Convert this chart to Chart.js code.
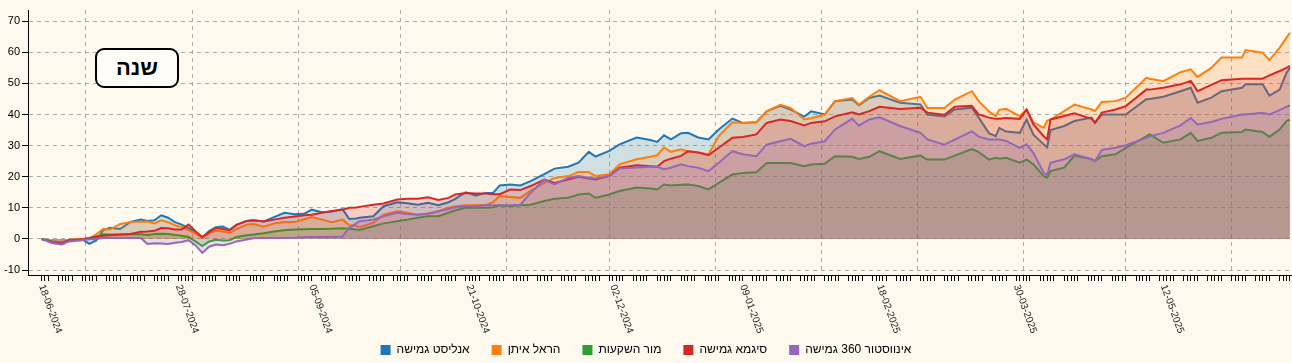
<!DOCTYPE html>
<html lang="he">
<head>
<meta charset="utf-8">
<title>שנה</title>
<script src="https://cdn.jsdelivr.net/npm/chart.js@4.4.0/dist/chart.umd.min.js"></script>
<style>
    html, body { margin: 0; padding: 0; background: #fdf9ee; }
    #wrap { position: relative; width: 1292px; height: 363px; }
    #title {
        position: absolute; left: 95px; top: 48px; width: 80px; height: 36px;
        border: 2px solid #000; border-radius: 9px; background: #fffdf8;
        font: bold 22px "Liberation Sans", Arial, sans-serif;
        display: flex; align-items: center; justify-content: center; direction: rtl;
    }
</style>
</head>
<body>
<div id="wrap">
    <canvas id="chart" width="1292" height="363"></canvas>
    <div id="title">שנה</div>
</div>
<script>
// Sample dates
const dates = [
    '2024-06-18', '2024-06-21', '2024-06-24', '2024-06-26', '2024-06-30', '2024-07-02', '2024-07-04', '2024-07-06',
    '2024-07-08', '2024-07-11', '2024-07-14', '2024-07-17', '2024-07-19', '2024-07-21', '2024-07-23', '2024-07-25',
    '2024-07-27', '2024-07-29', '2024-07-31', '2024-08-02', '2024-08-04', '2024-08-06', '2024-08-08', '2024-08-10',
    '2024-08-12', '2024-08-14', '2024-08-17', '2024-08-19', '2024-08-22', '2024-08-25', '2024-08-28', '2024-08-31',
    '2024-09-03', '2024-09-05', '2024-09-08', '2024-09-11', '2024-09-14', '2024-09-16', '2024-09-18', '2024-09-19',
    '2024-09-23', '2024-09-26', '2024-09-30', '2024-10-03', '2024-10-06', '2024-10-09', '2024-10-12', '2024-10-15',
    '2024-10-17', '2024-10-20', '2024-10-23', '2024-10-26', '2024-10-28', '2024-10-30', '2024-11-02', '2024-11-05',
    '2024-11-08', '2024-11-12', '2024-11-15', '2024-11-19', '2024-11-22', '2024-11-25', '2024-11-27', '2024-12-01',
    '2024-12-04', '2024-12-09', '2024-12-13', '2024-12-15', '2024-12-17', '2024-12-19', '2024-12-22', '2024-12-24',
    '2024-12-27', '2024-12-30', '2025-01-02', '2025-01-06', '2025-01-09', '2025-01-13', '2025-01-16', '2025-01-20',
    '2025-01-23', '2025-01-27', '2025-01-29', '2025-02-02', '2025-02-05', '2025-02-10', '2025-02-12', '2025-02-15',
    '2025-02-18', '2025-02-24', '2025-03-02', '2025-03-04', '2025-03-09', '2025-03-12', '2025-03-17', '2025-03-19',
    '2025-03-22', '2025-03-24', '2025-03-25', '2025-03-27', '2025-03-31', '2025-04-02', '2025-04-04', '2025-04-07',
    '2025-04-08', '2025-04-09', '2025-04-13', '2025-04-16', '2025-04-21', '2025-04-22', '2025-04-24', '2025-04-28',
    '2025-05-01', '2025-05-07', '2025-05-08', '2025-05-12', '2025-05-17', '2025-05-20', '2025-05-22', '2025-05-26',
    '2025-05-29', '2025-06-04', '2025-06-05', '2025-06-10', '2025-06-12', '2025-06-15', '2025-06-17', '2025-06-18'
];

// Cumulative return (%) per fund
const analyst = [
    0, -0.8, -1.2, -0.3, -0.2, -1.6, -0.5, 2.8, 3.6, 3.2, 5.5, 6.2, 5.8, 6.0, 7.6, 6.8,
    5.4, 4.6, 3.5, 2.2, 0.4, 2.5, 3.8, 4.0, 2.9, 4.5, 5.8, 6.0, 5.6, 7.0, 8.4, 7.9,
    8.2, 9.4, 8.6, 8.8, 9.6, 6.4, 6.6, 6.8, 7.3, 10.5, 11.8, 11.5, 11.0, 11.6, 10.8, 11.8,
    12.9, 15.0, 14.0, 14.8, 14.8, 17.2, 17.5, 17.2, 18.6, 20.8, 22.6, 23.2, 24.5, 28.0, 26.5, 28.3,
    30.4, 32.6, 31.8, 31.2, 33.3, 32.0, 34.0, 34.1, 32.6, 32.0, 35.2, 38.7, 37.3, 37.5, 41.0, 42.8,
    41.6, 39.3, 41.0, 40.0, 44.3, 44.8, 43.0, 45.3, 46.1, 43.8, 43.2, 40.0, 39.4, 41.6, 42.2, 39.0,
    34.0, 33.0, 35.7, 34.5, 34.1, 38.4, 33.5, 30.4, 29.5, 35.0, 36.3, 37.9, 39.0, 37.3, 40.0, 40.0,
    40.0, 44.9, 45.0, 45.7, 47.5, 48.6, 43.8, 45.4, 47.5, 48.6, 49.7, 49.7, 46.1, 48.0, 53.4, 55.0
];
const harel = [
    0, -0.8, -1.1, -0.3, 0, 0.2, 1.5, 3.2, 3.0, 4.8, 5.4, 5.5, 5.6, 5.0, 6.0, 5.4,
    4.4, 3.8, 2.8, 1.8, 0.3, 1.8, 2.6, 2.4, 1.9, 3.2, 4.6, 4.8, 3.9, 5.0, 5.4, 5.4,
    6.4, 7.0, 6.2, 5.4, 6.2, 4.4, 4.2, 3.8, 5.2, 7.8, 8.9, 8.4, 7.8, 8.0, 8.9, 10.0,
    10.5, 10.8, 10.8, 11.0, 11.8, 13.8, 13.5, 13.2, 15.5, 18.0, 19.6, 20.2, 21.5, 21.5, 20.2, 20.8,
    24.0, 25.6, 26.4, 26.9, 29.4, 28.0, 28.8, 28.2, 27.8, 27.2, 33.1, 37.5, 37.3, 37.5, 41.0, 43.1,
    42.1, 38.4, 38.8, 40.0, 44.3, 45.3, 43.2, 45.7, 47.8, 44.3, 45.7, 42.1, 42.1, 44.8, 47.5, 44.3,
    41.0, 39.5, 41.5, 41.8, 39.5, 41.6, 37.5, 35.7, 38.0, 38.4, 41.1, 43.2, 41.6, 41.1, 44.0, 44.3,
    45.4, 51.8, 51.5, 50.7, 53.6, 54.5, 52.1, 55.0, 58.3, 58.3, 60.7, 59.9, 57.5, 61.5, 64.7, 66.3
];
const mor = [
    0, -0.9, -1.3, -0.5, -0.2, 0.3, 0.8, 1.5, 1.4, 1.4, 1.5, 1.5, 1.3, 1.6, 1.7, 1.6,
    1.3, 1.0, 0.6, -0.8, -2.3, -0.8, -0.3, -0.5, -0.4, 0.6, 1.2, 1.4, 1.8, 2.4, 2.8, 3.0,
    3.1, 3.2, 3.2, 3.3, 3.4, 3.3, 3.0, 2.9, 4.1, 5.0, 5.7, 6.2, 6.8, 7.3, 7.3, 8.4,
    9.2, 10.0, 10.0, 10.0, 10.2, 10.8, 10.5, 10.8, 11.0, 12.2, 12.9, 13.2, 14.3, 14.6, 13.2, 14.3,
    15.4, 16.5, 16.2, 15.9, 17.5, 17.2, 17.4, 17.5, 17.0, 15.9, 18.0, 20.7, 21.2, 21.4, 24.4, 24.4,
    24.4, 23.4, 23.9, 24.2, 26.6, 26.4, 25.7, 26.4, 28.2, 25.7, 26.8, 25.5, 25.5, 26.8, 28.9, 27.9,
    25.5, 26.1, 25.8, 26.1, 24.5, 25.5, 24.0, 20.2, 19.7, 21.8, 22.9, 26.8, 25.6, 25.0, 26.6, 27.2,
    29.3, 33.0, 33.6, 30.9, 32.0, 34.1, 31.5, 32.5, 34.1, 34.4, 35.2, 34.4, 32.8, 35.2, 37.9, 38.4
];
const sigma = [
    0, -1.0, -1.4, -0.4, -0.1, 0.2, 0.6, 1.0, 1.2, 1.4, 1.6, 2.3, 2.4, 2.6, 3.5, 3.4,
    3.0, 3.0, 4.6, 2.5, 0.6, 2.2, 3.5, 3.2, 2.8, 4.5, 5.8, 6.0, 5.6, 6.2, 6.8, 7.2,
    7.6, 7.8, 8.4, 9.0, 9.4, 10.0, 10.1, 10.3, 11.0, 11.4, 12.7, 12.9, 12.9, 13.4, 12.5, 13.2,
    14.3, 14.8, 14.6, 14.6, 14.4, 14.4, 15.9, 15.7, 17.0, 19.1, 18.0, 19.1, 20.0, 19.4, 19.1, 20.2,
    22.9, 23.7, 23.4, 23.2, 25.0, 25.8, 26.7, 28.2, 27.8, 26.9, 29.3, 32.5, 32.8, 33.6, 37.3, 38.4,
    37.9, 36.5, 37.3, 37.8, 39.4, 40.7, 40.0, 41.1, 42.5, 41.8, 42.2, 40.6, 39.9, 42.5, 42.8, 40.0,
    39.0, 38.6, 38.6, 38.9, 38.6, 41.6, 36.8, 33.0, 32.0, 38.4, 39.5, 40.4, 38.6, 37.3, 40.6, 41.6,
    42.7, 48.0, 48.0, 48.6, 49.7, 50.8, 47.5, 49.5, 51.0, 51.5, 51.5, 51.5, 52.6, 54.0, 55.0, 55.6
];
const investor = [
    0, -1.3, -1.8, -0.8, -0.4, -0.1, 0, 0.3, 0.3, 0.3, 0.3, 0.3, -1.6, -1.4, -1.5, -1.6,
    -1.2, -1.0, -0.4, -2.0, -4.5, -2.5, -1.8, -2.0, -1.6, -0.8, -0.2, 0.2, 0.3, 0.3, 0.3, 0.4,
    0.6, 0.6, 0.6, 0.6, 0.8, 3.6, 5.0, 5.7, 6.2, 7.3, 8.4, 8.0, 7.8, 8.2, 8.9, 9.6,
    10.2, 10.5, 10.5, 10.8, 10.8, 10.8, 10.8, 11.0, 14.8, 19.1, 17.5, 19.7, 20.2, 19.7, 19.4, 20.2,
    22.6, 23.0, 23.2, 23.2, 22.4, 22.9, 24.0, 23.4, 22.9, 21.8, 24.5, 28.2, 27.2, 26.6, 30.3, 31.4,
    32.2, 29.8, 30.6, 31.4, 35.2, 38.6, 36.4, 38.4, 39.1, 36.3, 34.1, 32.0, 30.3, 31.9, 34.6, 32.9,
    32.0, 32.0, 32.0, 31.5, 29.3, 30.4, 27.6, 21.3, 20.5, 24.5, 25.6, 27.2, 25.6, 25.0, 28.6, 29.3,
    30.1, 32.5, 33.0, 34.1, 36.5, 38.9, 36.8, 37.6, 38.6, 40.0, 40.0, 40.6, 40.0, 41.4, 42.5, 42.9
];

const seriesNames = ['אנליסט גמישה', 'הראל איתן', 'מור השקעות', 'סיגמא גמישה', 'אינווסטור 360 גמישה'];
const seriesValues = [analyst, harel, mor, sigma, investor];
const seriesColors = ['#1f77b4', '#ff7f0e', '#2ca02c', '#d62728', '#9467bd'];
const fillColors = ['rgba(31,119,180,0.2)', 'rgba(255,127,14,0.2)', 'rgba(44,160,44,0.2)', 'rgba(214,39,40,0.2)', 'rgba(148,103,189,0.2)'];

// Axis labels
const labelDates = ['2024-06-18', '2024-07-28', '2024-09-05', '2024-10-21', '2024-12-02', '2025-01-09', '2025-02-18', '2025-03-30', '2025-05-12'];
const yTicks = [-10, 0, 10, 20, 30, 40, 50, 60, 70];

const DAY = 86400000;
const start = Date.parse(dates[0]);
const end = Date.parse(dates[dates.length - 1]);
const toDay = s => Math.round((Date.parse(s) - start) / DAY);
const fmtDate = s => s.slice(8, 10) + '-' + s.slice(5, 7) + '-' + s.slice(0, 4);

// Small tick marks on trading days (Sun-Thu), dashed grid on the 1st of each month
const tradeSet = new Set();
const monthSet = new Set();
for (let t = start; t <= end; t += DAY) {
    const d = new Date(t);
    const n = Math.round((t - start) / DAY);
    if (d.getUTCDay() <= 4) tradeSet.add(n);
    if (d.getUTCDate() === 1) monthSet.add(n);
}
const xTicks = [...new Set([...tradeSet, ...monthSet])].sort((a, b) => a - b);

const FONT = '"Liberation Sans", Arial, sans-serif';

// Rotated date labels under the x axis
const dateLabels = {
    id: 'dateLabels',
    afterDraw(chart) {
        const { ctx } = chart;
        const x = chart.scales.x;
        ctx.save();
        ctx.font = '10px ' + FONT;
        ctx.fillStyle = '#222';
        ctx.textAlign = 'left';
        ctx.textBaseline = 'middle';
        labelDates.forEach(s => {
            const px = x.getPixelForValue(toDay(s));
            ctx.save();
            ctx.translate(px, x.top + 10);
            ctx.rotate(70 * Math.PI / 180);
            ctx.fillText(fmtDate(s), 0, 0);
            ctx.restore();
        });
        ctx.restore();
    }
};

const chart = new Chart(document.getElementById('chart'), {
    type: 'line',
    data: {
        datasets: seriesNames.map((name, i) => ({
            label: name,
            data: seriesValues[i].map((v, j) => ({ x: toDay(dates[j]), y: v })),
            borderColor: seriesColors[i],
            backgroundColor: fillColors[i],
            borderWidth: 2,
            fill: 'origin',
            pointRadius: 0,
            tension: 0,
            order: seriesNames.length - i
        }))
    },
    options: {
        responsive: false,
        animation: false,
        events: [],
        layout: { padding: { top: 10, left: 0, right: 0, bottom: -3 } },
        scales: {
            x: {
                type: 'linear',
                min: -3.95,
                max: 365.6,
                afterBuildTicks: s => { s.ticks = xTicks.map(v => ({ value: v })); },
                afterFit: s => { s.height = 47; },
                ticks: { display: false },
                grid: {
                    color: c => monthSet.has(c.tick && c.tick.value) ? '#aaa' : 'rgba(0,0,0,0)',
                    tickColor: c => tradeSet.has(c.tick && c.tick.value) ? '#000' : 'rgba(0,0,0,0)',
                    tickLength: 6
                },
                border: { color: '#000', dash: [4, 4] }
            },
            y: {
                min: -11.6,
                max: 73.6,
                afterBuildTicks: s => { s.ticks = yTicks.map(v => ({ value: v })); },
                afterFit: s => { s.width = 28; },
                ticks: { color: '#000', padding: 2, font: { family: FONT, size: 11 } },
                grid: { color: '#aaa', tickColor: '#000', tickLength: 6 },
                border: { color: '#000', dash: [4, 4] }
            }
        },
        plugins: {
            tooltip: { enabled: false },
            legend: {
                position: 'bottom',
                labels: {
                    boxWidth: 10,
                    boxHeight: 10,
                    padding: 22,
                    color: '#000',
                    font: { family: FONT, size: 12 },
                    sort: (a, b) => a.datasetIndex - b.datasetIndex,
                    generateLabels: c => Chart.defaults.plugins.legend.labels.generateLabels(c).map(item => ({
                        ...item,
                        fillStyle: seriesColors[item.datasetIndex],
                        strokeStyle: seriesColors[item.datasetIndex],
                        lineWidth: 0
                    }))
                }
            }
        }
    },
    plugins: [dateLabels]
});
</script>
</body>
</html>
